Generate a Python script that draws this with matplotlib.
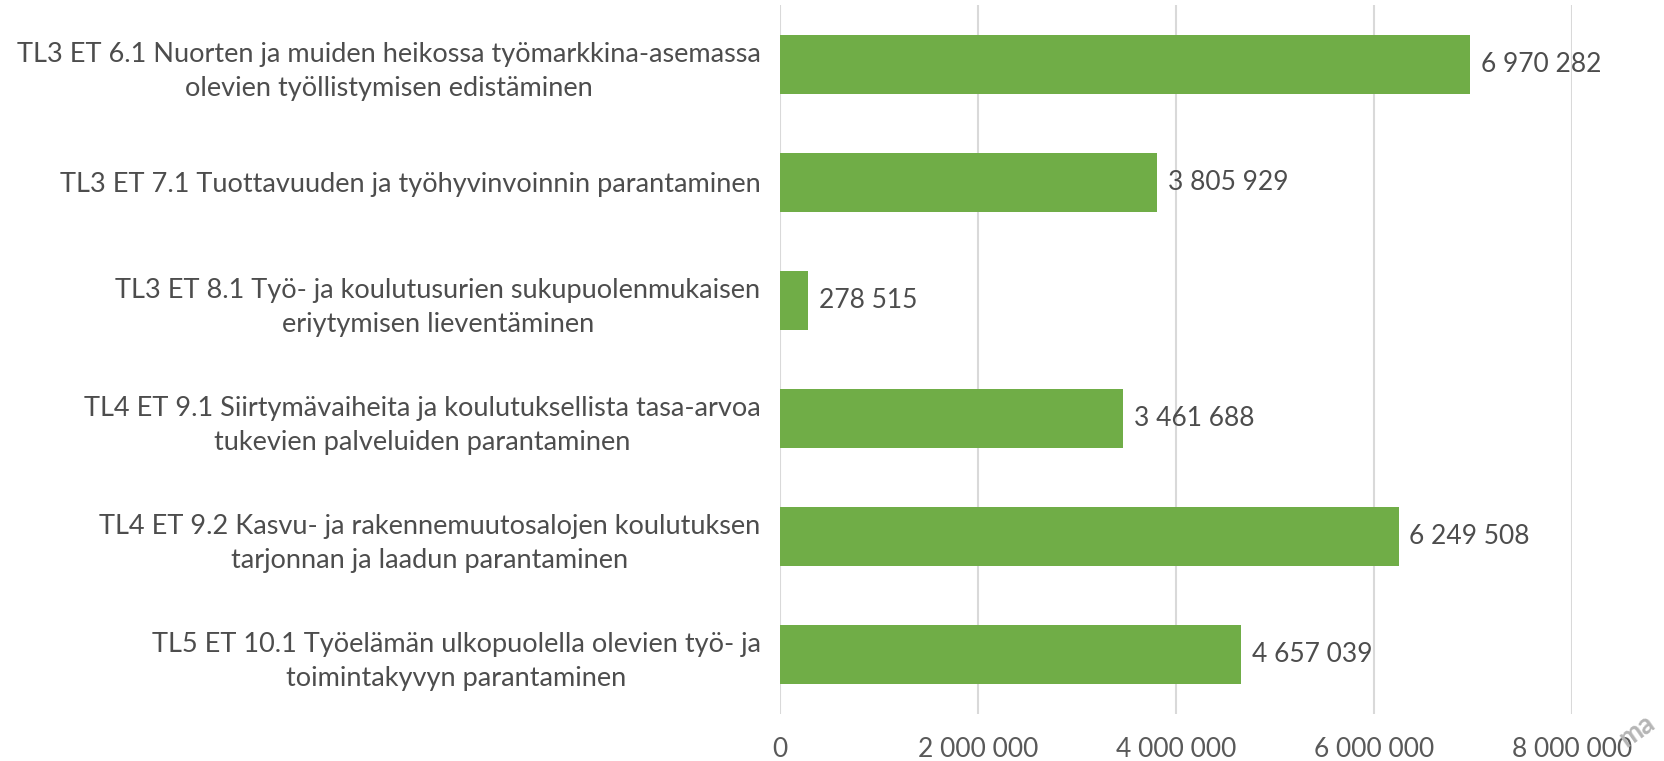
import matplotlib.pyplot as plt
from matplotlib.ticker import FuncFormatter

plt.rcParams['font.family'] = ['Lato', 'DejaVu Sans']

categories = [
    "TL3 ET 6.1 Nuorten ja muiden heikossa työmarkkina-asemassa\nolevien työllistymisen edistäminen",
    "TL3 ET 7.1 Tuottavuuden ja työhyvinvoinnin parantaminen",
    "TL3 ET 8.1 Työ- ja koulutusurien sukupuolenmukaisen\neriytymisen lieventäminen",
    "TL4 ET 9.1 Siirtymävaiheita ja koulutuksellista tasa-arvoa\ntukevien palveluiden parantaminen",
    "TL4 ET 9.2 Kasvu- ja rakennemuutosalojen koulutuksen\ntarjonnan ja laadun parantaminen",
    "TL5 ET 10.1 Työelämän ulkopuolella olevien työ- ja\ntoimintakyvyn parantaminen",
]
values = [6970282, 3805929, 278515, 3461688, 6249508, 4657039]
xticks = [0, 2000000, 4000000, 6000000, 8000000]


def fmt(v, pos=None):
    return f"{int(v):,}".replace(",", " ")


fig = plt.figure(figsize=(16.65, 7.61), dpi=100)
ax = fig.add_axes([0.4685, 0.062, 0.4755, 0.931])

ypos = list(range(len(categories)))
ax.barh(ypos, values, height=0.5, color='#70AD47', zorder=3)
for y, v in zip(ypos, values):
    ax.text(v + 110000, y, fmt(v), va='center', ha='left', fontsize=19, color='#4d4d4d')

ax.set_ylim(len(categories) - 0.5, -0.5)
ax.set_xlim(0, 8000000)
ax.set_xticks(xticks)
ax.xaxis.set_major_formatter(FuncFormatter(fmt))
ax.set_yticks(ypos)
ax.set_yticklabels(categories, multialignment='center', linespacing=1.45)
ax.tick_params(axis='y', length=0, pad=14, labelsize=19.5, labelcolor='#4d4d4d')
ax.tick_params(axis='x', length=0, pad=17, labelsize=19, labelcolor='#595959')
ax.grid(axis='x', color='#D9D9D9', linewidth=1.5, zorder=0)
for s in ax.spines.values():
    s.set_visible(False)

fig.text(0.983, 0.04, "ma", rotation=35, fontsize=20, color='#b5b5b5',
         ha='center', va='center', fontweight='bold')

fig.savefig('out.png', dpi=100)
